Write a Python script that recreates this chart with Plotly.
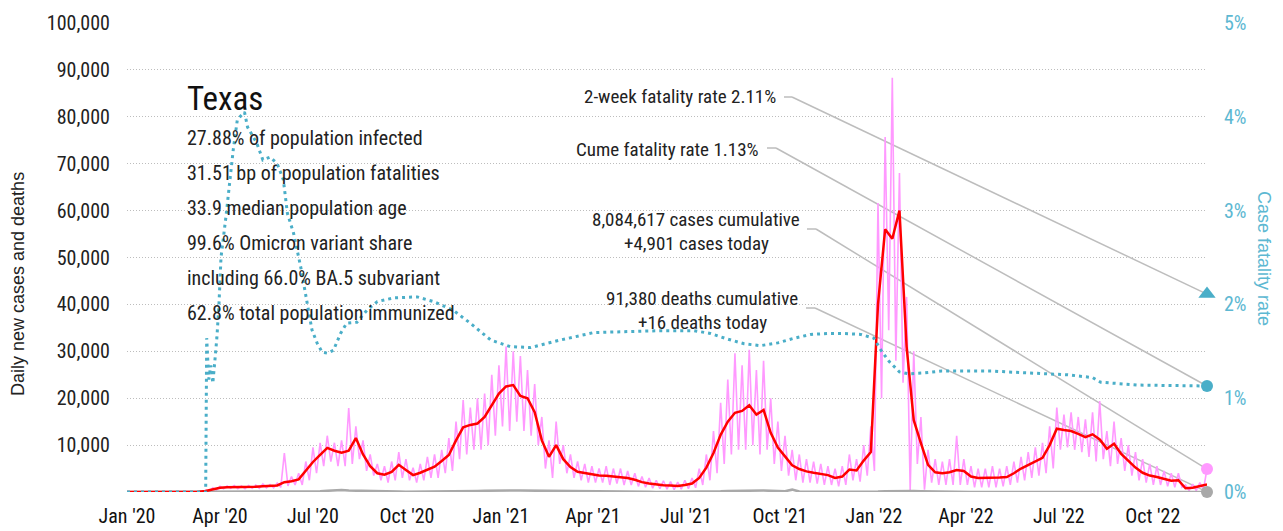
import pandas as pd
import plotly.graph_objects as go

# ---------------- data ----------------
START = "2020-01-01"
N_WEEKS = 152

# 7-day average of daily new cases, one value per week from 2020-01-01
red_7day = [0, 0, 0, 0, 0, 0, 0, 0, 0,
            10, 30, 200, 600, 900, 1000, 1000, 1000, 1000, 1100, 1200, 1250, 1400,
            2100, 2300, 2700, 4500, 6400, 7900, 9400, 8800, 8400, 8800, 11500, 8000,
            5500, 4000, 3700, 4300, 5800, 4700, 3600, 4100, 4700, 5400, 6600, 7900,
            11000, 13800, 14300, 14600, 16000, 18500, 21000, 22500, 22800, 20500, 20000, 17000,
            11000, 7500, 10000, 7000, 5300, 4300, 4000, 3700, 3500, 3450, 3350, 3200,
            3000, 2600, 2100, 1800, 1600, 1450, 1400, 1300, 1500, 1800, 3000, 5200,
            8300, 12200, 15000, 16900, 17300, 18500, 16500, 17500, 12600, 9500, 7600, 5700,
            4900, 4400, 4100, 3800, 3600, 3000, 3300, 4800, 4600, 6700, 8500, 40000,
            56000, 54000, 60000, 31000, 15300, 10400, 5800, 4200, 4000, 4200, 4700, 4500,
            3300, 3000, 3000, 3000, 3100, 3200, 4000, 5000, 5800, 6600, 7300, 10000,
            13500, 13200, 13000, 12400, 11700, 12300, 11200, 9200, 10300, 8100, 6600, 5200,
            4100, 3500, 3200, 2800, 2400, 2500, 800, 900, 1200, 1600]

# daily reported cases: weekly high (start of week) and weekly low (mid-week)
pink_hi = [0, 0, 0, 0, 0, 0, 0, 0, 0,
           30, 80, 400, 900, 1200, 1300, 1400, 1300, 1400, 1500, 1700, 1600, 1900,
           8300, 3300, 4000, 6500, 9500, 10500, 12000, 10500, 11000, 17900, 14000, 11000,
           8000, 6000, 5500, 6500, 8500, 7000, 5200, 6000, 7500, 8000, 9000, 11500,
           15000, 19600, 18000, 20000, 21000, 25000, 27000, 31000, 30000, 29000, 26000, 23000,
           16000, 11000, 15000, 10000, 8000, 6500, 6000, 5500, 5000, 5500, 5000, 5000,
           4500, 4000, 3300, 3000, 2500, 2400, 2200, 2100, 2500, 3000, 5000, 8000,
           13000, 19000, 24000, 29600, 27000, 30300, 26000, 28000, 20000, 15000, 12000, 9000,
           8000, 7000, 6500, 6000, 5500, 5000, 5500, 8000, 7000, 10000, 14000, 61600,
           75700, 88300, 68000, 41600, 30000, 16000, 9000, 7000, 6500, 7000, 12000, 7000,
           5500, 5000, 5000, 5500, 5000, 5500, 6500, 7500, 8500, 9500, 10500, 14000,
           18000, 16500, 17000, 16000, 15500, 17000, 19400, 13000, 15000, 11500, 10000, 8500,
           7000, 6000, 5500, 4500, 4000, 4000, 1500, 1700, 2000, 4901]
pink_lo = [0, 0, 0, 0, 0, 0, 0, 0, 0,
           0, 10, 100, 400, 700, 800, 700, 700, 800, 800, 900, 900, 1000,
           1300, 1500, 1500, 2500, 4000, 5500, 6500, 5500, 5500, 6000, 7000, 4500,
           3500, 2500, 2000, 2500, 3000, 2500, 2000, 2500, 3000, 3000, 4000, 4500,
           7000, 8000, 9000, 9000, 10000, 12000, 14000, 13000, 15000, 13000, 12000, 10000,
           5000, 3000, 6000, 4000, 3000, 2500, 2000, 2000, 2000, 1500, 1800, 1500,
           1500, 1200, 1000, 800, 700, 600, 500, 600, 700, 900, 1500, 2500,
           4000, 6000, 8000, 9000, 9000, 10000, 8000, 9000, 6000, 4500, 3500, 2500,
           2000, 2000, 1800, 1500, 1500, 1200, 1500, 2500, 2200, 3500, 4500, 20000,
           34500, 28000, 23300, 400, 6000, 500, 2000, 1500, 1500, 1500, 1500, 1500,
           1000, 1000, 1000, 1000, 1200, 1500, 2000, 2500, 3000, 3500, 4000, 5000,
           9000, 9500, 9000, 8500, 7500, 6500, 7000, 5500, 6000, 4500, 3500, 2500,
           2000, 1500, 1500, 1200, 1000, 1000, 300, 300, 500]

# daily deaths, one value per week
deaths_weekly = [0, 0, 0, 0, 0, 0, 0, 0, 0, 0,
                 2, 10, 30, 40, 45, 40, 40, 35, 35, 30, 30, 30,
                 25, 25, 30, 40, 80, 150, 250, 280, 450, 300, 250, 200,
                 150, 120, 100, 90, 80, 70, 70, 75, 80, 90, 110, 130,
                 150, 180, 200, 230, 260, 300, 340, 350, 330, 300, 280, 250,
                 200, 180, 220, 180, 150, 120, 90, 70, 60, 55, 50, 45,
                 40, 35, 30, 28, 25, 25, 25, 25, 30, 35, 45, 70,
                 110, 160, 220, 260, 300, 330, 350, 300, 250, 200, 150, 500,
                 90, 70, 60, 55, 50, 50, 50, 55, 60, 70, 90, 120,
                 160, 200, 220, 230, 200, 150, 110, 80, 60, 40, 30, 25,
                 20, 18, 15, 15, 15, 15, 18, 20, 25, 30, 35, 40,
                 45, 50, 55, 55, 50, 50, 45, 40, 40, 35, 30, 25,
                 25, 20, 20, 18, 15, 15, 12, 12, 14, 16]

# cumulative case fatality rate (%), sampled at day offsets from 2020-01-01
cfr_days = [0, 77, 78, 80, 82, 84, 86, 88, 90, 92,
            97, 104, 108, 115, 118, 127, 133, 140, 147, 153,
            157, 163, 170, 176, 181, 186, 191, 196, 202, 209,
            215, 225, 235, 245, 261, 284, 300, 319, 336, 356,
            375, 395, 424, 457, 522, 555, 571, 588, 604, 620,
            637, 653, 669, 686, 702, 718, 731, 738, 746, 756,
            765, 780, 797, 813, 829, 846, 862, 878, 895, 920,
            945, 953, 990, 1057]
cfr_values = [0, 0, 1.64, 1.20, 1.35, 1.16, 1.40, 1.65, 2.0, 2.5,
              2.95, 3.65, 3.97, 4.05, 3.89, 3.72, 3.54, 3.57, 3.50, 3.33,
              2.97, 2.76, 2.40, 2.05, 1.73, 1.59, 1.49, 1.48, 1.51, 1.69,
              1.80, 1.81, 1.94, 2.03, 2.07, 2.08, 2.03, 1.94, 1.80, 1.62,
              1.55, 1.54, 1.62, 1.70, 1.72, 1.72, 1.69, 1.63, 1.58, 1.56,
              1.59, 1.64, 1.68, 1.69, 1.69, 1.68, 1.64, 1.51, 1.39, 1.28,
              1.26, 1.27, 1.29, 1.29, 1.29, 1.29, 1.28, 1.27, 1.26, 1.25,
              1.22, 1.17, 1.14, 1.13]

two_week_cfr = 2.11
cume_cfr = 1.13
cases_today = 4901
deaths_today = 16

state_name = "Texas"
state_facts = ["27.88% of population infected",
               "31.51 bp of population fatalities",
               "33.9 median population age",
               "99.6% Omicron variant share",
               "including 66.0% BA.5 subvariant",
               "62.8% total population immunized"]
label_2wk = "2-week fatality rate 2.11%"
label_cume = "Cume fatality rate 1.13%"
label_cases = ["8,084,617 cases cumulative", "+4,901 cases today"]
label_deaths = ["91,380 deaths cumulative", "+16 deaths today"]

y_tick_vals = [10000, 20000, 30000, 40000, 50000, 60000, 70000, 80000, 90000, 100000]
y2_tick_vals = [0, 1, 2, 3, 4, 5]
Y_MAX = 100000
Y2_MAX = 5

# ---------------- build ----------------
t0 = pd.Timestamp(START)
week_dates = pd.date_range(START, periods=N_WEEKS, freq="7D")
pink_x, pink_y = [], []
for i in range(N_WEEKS):
    pink_x.append(week_dates[i]); pink_y.append(pink_hi[i])
    if i < len(pink_lo):
        pink_x.append(week_dates[i] + pd.Timedelta(hours=84)); pink_y.append(pink_lo[i])
cfr_x = [t0 + pd.Timedelta(days=d) for d in cfr_days]
last = week_dates[-1]

NARROW = "Liberation Sans Narrow, Arial Narrow, Roboto Condensed, DejaVu Sans Condensed, sans-serif"
REG = "Liberation Sans, Arial, sans-serif"
TEAL = "#4aaec8"
TEAL_TXT = "#5db8d2"
PINK = "#ff99ff"
GRAY = "#a9a9a9"
LINEC = "#bdbdbd"

fig = go.Figure()
fig.add_trace(go.Scatter(x=pink_x, y=pink_y, mode="lines",
                         line=dict(color=PINK, width=1.6), hoverinfo="skip"))
fig.add_trace(go.Scatter(x=week_dates, y=deaths_weekly, mode="lines",
                         line=dict(color=GRAY, width=2.5), hoverinfo="skip"))
fig.add_trace(go.Scatter(x=week_dates, y=red_7day, mode="lines",
                         line=dict(color="#ff0000", width=2.5), hoverinfo="skip"))
fig.add_trace(go.Scatter(x=cfr_x, y=cfr_values, mode="lines", yaxis="y2",
                         line=dict(color=TEAL, width=3, dash="3px,4px"), hoverinfo="skip"))
# end markers
fig.add_trace(go.Scatter(x=[last], y=[cases_today], mode="markers", cliponaxis=False,
                         marker=dict(color=PINK, size=12), hoverinfo="skip"))
fig.add_trace(go.Scatter(x=[last], y=[deaths_today], mode="markers", cliponaxis=False,
                         marker=dict(color=GRAY, size=12), hoverinfo="skip"))
fig.add_trace(go.Scatter(x=[last], y=[cume_cfr], mode="markers", yaxis="y2", cliponaxis=False,
                         marker=dict(color=TEAL, size=12), hoverinfo="skip"))
fig.add_trace(go.Scatter(x=[last], y=[two_week_cfr], mode="markers", yaxis="y2", cliponaxis=False,
                         marker=dict(color=TEAL, size=15, symbol="triangle-up"), hoverinfo="skip"))

# ---------------- layout helpers (pixel -> paper) ----------------
W, H = 1283, 531
L, R, T, B = 127, 76, 23, 39
PW, PH = W - L - R, H - T - B


def px(x):
    return (x - L) / PW


def py(y):
    return (H - B - y) / PH


annotations = []
annotations.append(dict(x=px(185), y=py(98), xref="paper", yref="paper", text=state_name,
                        showarrow=False, xanchor="left", yanchor="middle",
                        font=dict(family=NARROW, size=33, color="#111")))
for i, line in enumerate(state_facts):
    annotations.append(dict(x=px(185), y=py(138 + 35 * i), xref="paper", yref="paper", text=line,
                            showarrow=False, xanchor="left", yanchor="middle",
                            font=dict(family=NARROW, size=20, color="#222")))

annotations.append(dict(x=px(778), y=py(97), xref="paper", yref="paper", text=label_2wk,
                        showarrow=False, xanchor="right", yanchor="middle",
                        font=dict(family=NARROW, size=19, color="#222")))
annotations.append(dict(x=px(761), y=py(149), xref="paper", yref="paper", text=label_cume,
                        showarrow=False, xanchor="right", yanchor="middle",
                        font=dict(family=NARROW, size=19, color="#222")))
for i, line in enumerate(label_cases):
    annotations.append(dict(x=px(696), y=py(219 + 24 * i), xref="paper", yref="paper", text=line,
                            showarrow=False, xanchor="center", yanchor="middle",
                            font=dict(family=NARROW, size=19, color="#222")))
for i, line in enumerate(label_deaths):
    annotations.append(dict(x=px(702), y=py(298 + 24 * i), xref="paper", yref="paper", text=line,
                            showarrow=False, xanchor="center", yanchor="middle",
                            font=dict(family=NARROW, size=19, color="#222")))

annotations.append(dict(x=px(18), y=py(284), xref="paper", yref="paper",
                        text="Daily new cases and deaths", textangle=-90, showarrow=False,
                        xanchor="center", yanchor="middle",
                        font=dict(family=REG, size=18, color="#222")))
annotations.append(dict(x=px(1264), y=py(258), xref="paper", yref="paper",
                        text="Case fatality rate", textangle=90, showarrow=False,
                        xanchor="center", yanchor="middle",
                        font=dict(family=REG, size=18, color=TEAL_TXT)))

# connector lines: text -> end markers
shapes = []
connectors = [
    ((784, 97), (792, 97), two_week_cfr / Y2_MAX),
    ((767, 148), (776, 148), cume_cfr / Y2_MAX),
    ((807, 229), (816, 229), cases_today / Y_MAX),
    ((806, 308), (815, 308), deaths_today / Y_MAX),
]
for (a, b, yend) in connectors:
    shapes.append(dict(type="line", xref="paper", yref="paper",
                       x0=px(a[0]), y0=py(a[1]), x1=px(b[0]), y1=py(b[1]),
                       line=dict(color=LINEC, width=1.5), layer="above"))
    shapes.append(dict(type="line", xref="paper", yref="paper",
                       x0=px(b[0]), y0=py(b[1]), x1=1.0, y1=yend,
                       line=dict(color=LINEC, width=1.5), layer="below"))

fig.update_layout(
    width=W, height=H,
    margin=dict(l=L, r=R, t=T, b=B, autoexpand=False),
    paper_bgcolor="white", plot_bgcolor="white",
    showlegend=False,
    hovermode=False,
    annotations=annotations,
    shapes=shapes,
    xaxis=dict(range=[t0, last], tick0=START, dtick="M3", tickformat="%b '%y",
               showgrid=False, zeroline=False, showline=False, ticks="",
               ticklabelstandoff=10,
               tickfont=dict(family=NARROW, size=20, color="#111")),
    yaxis=dict(range=[0, Y_MAX], tickvals=y_tick_vals, tickformat=",d",
               showgrid=True, gridcolor="#bdbdbd", griddash="1px,2px", gridwidth=1,
               zeroline=False, showline=False, ticks="", ticklabelstandoff=16,
               tickfont=dict(family=NARROW, size=20, color="#222")),
    yaxis2=dict(range=[0, Y2_MAX], overlaying="y", side="right", tickvals=y2_tick_vals,
                ticktext=[f"{v}%" for v in y2_tick_vals], showgrid=False, zeroline=False,
                showline=False, ticks="", ticklabelstandoff=16,
                tickfont=dict(family=NARROW, size=20, color=TEAL_TXT)),
)

fig.write_html("out.html", config={"displayModeBar": False},
               post_script="document.body.style.margin='0';")
